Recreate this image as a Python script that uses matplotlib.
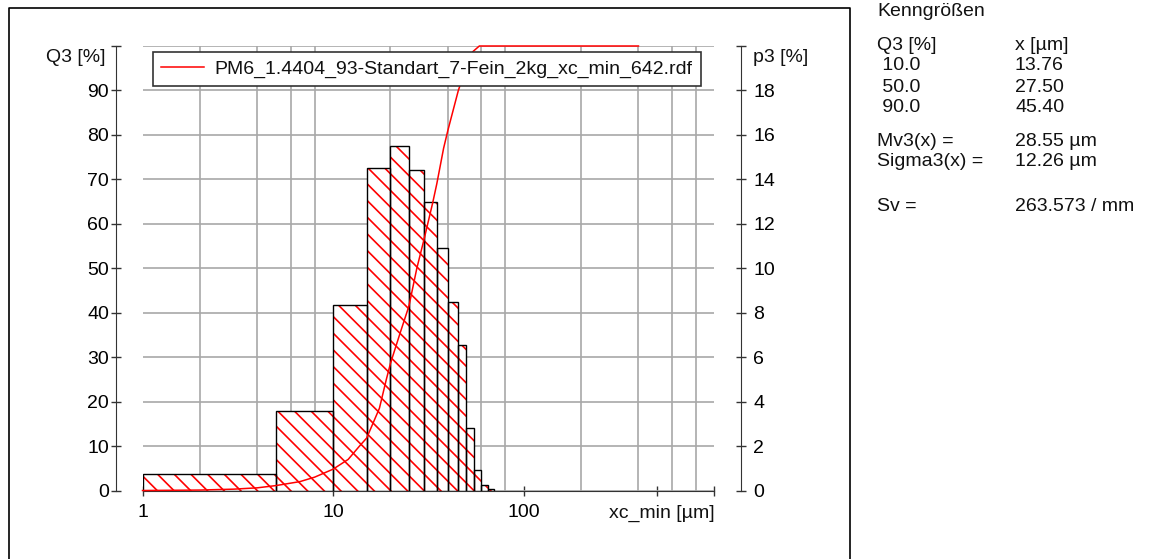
import numpy as np
import matplotlib
matplotlib.use("Agg")
import matplotlib.pyplot as plt
from matplotlib.ticker import FixedLocator, NullFormatter
from matplotlib.lines import Line2D

#---------------------FONT and other graphics------------------------
plt.rcParams['font.family'] = ['Liberation Sans', 'DejaVu Sans']
plt.rcParams['font.size'] = 14
plt.rcParams['hatch.linewidth'] = 1.2
plt.rcParams['text.color'] = '#111111'

#---------------------DATA------------------------
# histogram p3 [%] (right axis), bin edges in um
bin_edges = [1, 5, 10, 15, 20, 25, 30, 35, 40, 45, 50, 55, 60, 65, 70]
p3 = [0.76, 3.58, 8.36, 14.5, 15.5, 14.4, 13.0, 10.9, 8.48, 6.55, 2.8, 0.92, 0.23, 0.05]

# cumulative Q3 [%] (left axis)
q3_x = [1, 2, 3, 4, 5, 6.7, 8, 10, 12, 13.76, 15, 17.5, 19, 20, 22.5, 25, 27.5,
        30, 33.3, 35, 38, 40, 45.4, 50, 54, 58.5, 65, 400]
q3_y = [0, 0.1, 0.3, 0.6, 1.1, 2.0, 3.0, 4.8, 7.0, 10.0, 11.8, 18.5, 24.9, 28.6, 35.5, 41.5, 50.0,
        56.5, 64.7, 69.0, 77.0, 81.0, 90.0, 95.3, 98.7, 100, 100, 100]

legend_label = "PM6_1.4404_93-Standart_7-Fein_2kg_xc_min_642.rdf"

grid_x = [1, 2, 4, 6, 8, 10, 20, 40, 60, 80, 100, 200, 400, 600, 800, 1000]
xticks = [1, 10, 100, 500, 1000]
xticklabels = ['1', '10', '100', '', '']

q3_ticks = list(range(0, 101, 10))
p3_ticks = list(range(0, 21, 2))

stats_left = ["Q3 [%]", " 10.0", " 50.0", " 90.0"]
stats_right = ["x [\u00b5m]", "13.76", "27.50", "45.40"]
moments_left = ["Mv3(x) =", "Sigma3(x) ="]
moments_right = ["28.55 \u00b5m", "12.26 \u00b5m"]
sv_left = "Sv ="
sv_right = "263.573 / mm"

#------------Figure Layout--------------
W, H = 1149, 559
fig = plt.figure(figsize=(W / 100, H / 100), dpi=100)
fig.subplots_adjust(left=142.5 / W, right=714.3 / W, bottom=1 - 490.5 / H, top=1 - 46 / H)
ax = fig.add_subplot(111)      # p3 axis, bars (drawn underneath)
ax2 = ax.twinx()               # Q3 axis, curve + legend (on top)

spine_col = '#333333'
grid_col = '#a8a8a8'
fs = 14
px = 72 / 100   # points per pixel

ax.set_xscale('log')
ax.set_xlim(1, 1000)
ax.set_ylim(0, 20)
ax2.set_ylim(0, 100)

# grid
ax.xaxis.set_minor_locator(FixedLocator(grid_x))
ax.xaxis.set_minor_formatter(NullFormatter())
ax.set_yticks(p3_ticks)
ax.set_axisbelow(True)
ax.grid(which='minor', axis='x', color=grid_col, linewidth=1.2)
ax.grid(which='major', axis='y', color=grid_col, linewidth=1.2)
ax.tick_params(axis='x', which='minor', length=0)

# bars: hatched fill then black outline
widths = np.diff(bin_edges)
ax.bar(bin_edges[:-1], p3, width=widths, align='edge', facecolor='white',
       edgecolor='red', hatch='\\\\', linewidth=0, zorder=2)
ax.bar(bin_edges[:-1], p3, width=widths, align='edge', fill=False,
       edgecolor='black', linewidth=1.0, zorder=3)

# cumulative curve
line, = ax2.plot(q3_x, q3_y, color='red', linewidth=1.1, clip_on=False, zorder=2,
                 label=legend_label)

# ticks and spines
ax.set_xticks(xticks)
ax.set_xticklabels(xticklabels)
ax.tick_params(axis='x', which='major', direction='inout', length=7, width=1,
               color=spine_col, pad=6, labelsize=fs)
ax.yaxis.tick_right()
ax.set_yticklabels([str(t) for t in p3_ticks[:-1]] + [''])
ax.tick_params(axis='y', direction='inout', length=7, width=1, color=spine_col,
               pad=5, labelsize=fs)
ax2.yaxis.tick_left()
ax2.set_yticks(q3_ticks)
ax2.set_yticklabels([str(t) for t in q3_ticks[:-1]] + [''])
ax2.tick_params(axis='y', direction='inout', length=7, width=1, color=spine_col,
                pad=1.5, labelsize=fs)

for s in ['top', 'left']:
    ax.spines[s].set_visible(False)
ax.spines['right'].set_position(('outward', 27 * px))
ax.spines['right'].set_color(spine_col)
ax.spines['bottom'].set_color(spine_col)
for s in ['top', 'right', 'bottom']:
    ax2.spines[s].set_visible(False)
ax2.spines['left'].set_position(('outward', 26.5 * px))
ax2.spines['left'].set_color(spine_col)

# axis titles at the top of the scales
ax2.annotate("Q3 [%]", xy=(0, 1), xycoords='axes fraction', xytext=(-37, -11),
             textcoords='offset pixels', ha='right', va='center', fontsize=fs)
ax.annotate("p3 [%]", xy=(1, 1), xycoords='axes fraction', xytext=(39, -11),
            textcoords='offset pixels', ha='left', va='center', fontsize=fs)
ax.annotate("xc_min [\u00b5m]", xy=(1, 0), xycoords='axes fraction', xytext=(0, -23),
            textcoords='offset pixels', ha='right', va='center', fontsize=fs)

# legend
leg = ax2.legend(loc='upper left', bbox_to_anchor=(0.018, 0.9865), borderaxespad=0,
                 fancybox=False, framealpha=1, edgecolor=spine_col, fontsize=fs,
                 handlelength=2.2, handletextpad=0.55, borderpad=0.42)
leg.get_frame().set_linewidth(1.2)

# frame round the chart
fig.add_artist(Line2D([9 / W, 9 / W, 850 / W, 850 / W], [-0.05, 1 - 8 / H, 1 - 8 / H, -0.05],
                      transform=fig.transFigure, color='black', linewidth=1.2))

# side panel with characteristic values
x1, x2 = 877 / W, 1015 / W
def fy(py):
    return 1 - py / H

fig.text(x1, fy(12), "Kenngr\u00f6\u00dfen", va='center', fontsize=fs)
for i, (a, b) in enumerate(zip(stats_left, stats_right)):
    fig.text(x1, fy(45 + i * 21), a, va='center', fontsize=fs)
    fig.text(x2, fy(45 + i * 21), b, va='center', fontsize=fs)
for i, (a, b) in enumerate(zip(moments_left, moments_right)):
    fig.text(x1, fy(141 + i * 21), a, va='center', fontsize=fs)
    fig.text(x2, fy(141 + i * 21), b, va='center', fontsize=fs)
fig.text(x1, fy(206.5), sv_left, va='center', fontsize=fs)
fig.text(x2, fy(206.5), sv_right, va='center', fontsize=fs)

fig.savefig("out.png", dpi=100)
